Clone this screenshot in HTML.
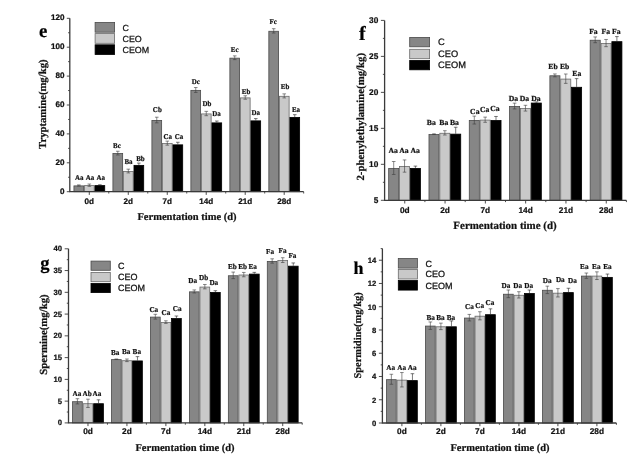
<!DOCTYPE html>
<html lang="en"><head><meta charset="utf-8"><title>Biogenic amines during fermentation</title>
<style>html,body{margin:0;padding:0;background:#fff}svg{display:block;filter:blur(0.35px)}text{stroke:#111;stroke-width:0.22px;paint-order:stroke;text-rendering:geometricPrecision}</style></head>
<body>
<svg width="639" height="463" viewBox="0 0 639 463">
<rect width="639" height="463" fill="#ffffff"/>
<g>
<rect x="73.94" y="185.89" width="9.73" height="5.81" fill="#868686" stroke="#4a4a4a" stroke-width="0.8"/>
<path d="M78.81 185.49V184.91M77.01 184.91H80.61" stroke="#3c3c3c" stroke-width="0.6" fill="none"/>
<path d="M78.81 185.49V186.06M77.01 186.06H80.61" stroke="#3c3c3c" stroke-width="0.6" fill="none"/>
<text transform="translate(79.2 180.4) scale(0.94 1)" font-family='"Liberation Serif", serif' font-weight="bold" font-size="7.4" text-anchor="middle" fill="#111">Aa</text>
<rect x="84.47" y="185.6" width="9.73" height="6.1" fill="#c9c9c9" stroke="#6a6a6a" stroke-width="0.8"/>
<path d="M89.34 185.2V184.04M87.54 184.04H91.14" stroke="#3c3c3c" stroke-width="0.6" fill="none"/>
<path d="M89.34 185.2V186.35M87.54 186.35H91.14" stroke="#3c3c3c" stroke-width="0.6" fill="none"/>
<text transform="translate(90 180.4) scale(0.94 1)" font-family='"Liberation Serif", serif' font-weight="bold" font-size="7.4" text-anchor="middle" fill="#111">Aa</text>
<rect x="95" y="185.6" width="9.73" height="6.1" fill="#000000" stroke="#000000" stroke-width="0.8"/>
<path d="M99.87 185.2V184.76M98.07 184.76H101.67" stroke="#222" stroke-width="0.6" fill="none"/>
<text transform="translate(100.8 180.4) scale(0.94 1)" font-family='"Liberation Serif", serif' font-weight="bold" font-size="7.4" text-anchor="middle" fill="#111">Aa</text>
<rect x="112.92" y="153.52" width="9.73" height="38.18" fill="#868686" stroke="#4a4a4a" stroke-width="0.8"/>
<path d="M117.79 153.12V151.24M115.99 151.24H119.59" stroke="#3c3c3c" stroke-width="0.6" fill="none"/>
<path d="M117.79 153.12V155M115.99 155H119.59" stroke="#3c3c3c" stroke-width="0.6" fill="none"/>
<text transform="translate(116.9 147.5) scale(0.94 1)" font-family='"Liberation Serif", serif' font-weight="bold" font-size="7.4" text-anchor="middle" fill="#111">Bc</text>
<rect x="123.45" y="171.44" width="9.73" height="20.26" fill="#c9c9c9" stroke="#6a6a6a" stroke-width="0.8"/>
<path d="M128.32 171.04V169.16M126.52 169.16H130.12" stroke="#3c3c3c" stroke-width="0.6" fill="none"/>
<path d="M128.32 171.04V172.91M126.52 172.91H130.12" stroke="#3c3c3c" stroke-width="0.6" fill="none"/>
<text transform="translate(128.5 164) scale(0.94 1)" font-family='"Liberation Serif", serif' font-weight="bold" font-size="7.4" text-anchor="middle" fill="#111">Ba</text>
<rect x="133.98" y="165.37" width="9.73" height="26.33" fill="#000000" stroke="#000000" stroke-width="0.8"/>
<path d="M138.85 164.97V163.09M137.05 163.09H140.65" stroke="#222" stroke-width="0.6" fill="none"/>
<text transform="translate(140.4 161) scale(0.94 1)" font-family='"Liberation Serif", serif' font-weight="bold" font-size="7.4" text-anchor="middle" fill="#111">Bb</text>
<rect x="151.91" y="120.43" width="9.73" height="71.27" fill="#868686" stroke="#4a4a4a" stroke-width="0.8"/>
<path d="M156.77 120.03V117.21M154.97 117.21H158.57" stroke="#3c3c3c" stroke-width="0.6" fill="none"/>
<path d="M156.77 120.03V122.85M154.97 122.85H158.57" stroke="#3c3c3c" stroke-width="0.6" fill="none"/>
<text transform="translate(157.3 111.6) scale(0.94 1)" font-family='"Liberation Serif", serif' font-weight="bold" font-size="7.4" text-anchor="middle" fill="#111">Cb</text>
<rect x="162.44" y="143.55" width="9.73" height="48.15" fill="#c9c9c9" stroke="#6a6a6a" stroke-width="0.8"/>
<path d="M167.3 143.15V141.12M165.5 141.12H169.1" stroke="#3c3c3c" stroke-width="0.6" fill="none"/>
<path d="M167.3 143.15V145.17M165.5 145.17H169.1" stroke="#3c3c3c" stroke-width="0.6" fill="none"/>
<text transform="translate(167.8 138.9) scale(0.94 1)" font-family='"Liberation Serif", serif' font-weight="bold" font-size="7.4" text-anchor="middle" fill="#111">Ca</text>
<rect x="172.97" y="144.85" width="9.73" height="46.85" fill="#000000" stroke="#000000" stroke-width="0.8"/>
<path d="M177.83 144.45V142.28M176.03 142.28H179.63" stroke="#222" stroke-width="0.6" fill="none"/>
<text transform="translate(178.9 138.9) scale(0.94 1)" font-family='"Liberation Serif", serif' font-weight="bold" font-size="7.4" text-anchor="middle" fill="#111">Ca</text>
<rect x="190.88" y="90.37" width="9.73" height="101.33" fill="#868686" stroke="#4a4a4a" stroke-width="0.8"/>
<path d="M195.75 89.97V87.52M193.95 87.52H197.55" stroke="#3c3c3c" stroke-width="0.6" fill="none"/>
<path d="M195.75 89.97V92.43M193.95 92.43H197.55" stroke="#3c3c3c" stroke-width="0.6" fill="none"/>
<text transform="translate(195.8 84) scale(0.94 1)" font-family='"Liberation Serif", serif' font-weight="bold" font-size="7.4" text-anchor="middle" fill="#111">Dc</text>
<rect x="201.41" y="113.93" width="9.73" height="77.77" fill="#c9c9c9" stroke="#6a6a6a" stroke-width="0.8"/>
<path d="M206.28 113.53V111.36M204.48 111.36H208.08" stroke="#3c3c3c" stroke-width="0.6" fill="none"/>
<path d="M206.28 113.53V115.69M204.48 115.69H208.08" stroke="#3c3c3c" stroke-width="0.6" fill="none"/>
<text transform="translate(207 106) scale(0.94 1)" font-family='"Liberation Serif", serif' font-weight="bold" font-size="7.4" text-anchor="middle" fill="#111">Db</text>
<rect x="211.94" y="122.88" width="9.73" height="68.82" fill="#000000" stroke="#000000" stroke-width="0.8"/>
<path d="M216.81 122.48V121.04M215.01 121.04H218.61" stroke="#222" stroke-width="0.6" fill="none"/>
<text transform="translate(216.6 115.6) scale(0.94 1)" font-family='"Liberation Serif", serif' font-weight="bold" font-size="7.4" text-anchor="middle" fill="#111">Da</text>
<rect x="229.87" y="58.15" width="9.73" height="133.55" fill="#868686" stroke="#4a4a4a" stroke-width="0.8"/>
<path d="M234.73 57.75V55.87M232.93 55.87H236.53" stroke="#3c3c3c" stroke-width="0.6" fill="none"/>
<path d="M234.73 57.75V59.63M232.93 59.63H236.53" stroke="#3c3c3c" stroke-width="0.6" fill="none"/>
<text transform="translate(234.7 52.3) scale(0.94 1)" font-family='"Liberation Serif", serif' font-weight="bold" font-size="7.4" text-anchor="middle" fill="#111">Ec</text>
<rect x="240.4" y="97.89" width="9.73" height="93.81" fill="#c9c9c9" stroke="#6a6a6a" stroke-width="0.8"/>
<path d="M245.26 97.49V95.75M243.46 95.75H247.06" stroke="#3c3c3c" stroke-width="0.6" fill="none"/>
<path d="M245.26 97.49V99.22M243.46 99.22H247.06" stroke="#3c3c3c" stroke-width="0.6" fill="none"/>
<text transform="translate(246 94.4) scale(0.94 1)" font-family='"Liberation Serif", serif' font-weight="bold" font-size="7.4" text-anchor="middle" fill="#111">Eb</text>
<rect x="250.92" y="120.86" width="9.73" height="70.84" fill="#000000" stroke="#000000" stroke-width="0.8"/>
<path d="M255.79 120.46V118.58M253.99 118.58H257.59" stroke="#222" stroke-width="0.6" fill="none"/>
<text transform="translate(255.8 114.6) scale(0.94 1)" font-family='"Liberation Serif", serif' font-weight="bold" font-size="7.4" text-anchor="middle" fill="#111">Da</text>
<rect x="268.84" y="31.27" width="9.73" height="160.43" fill="#868686" stroke="#4a4a4a" stroke-width="0.8"/>
<path d="M273.71 30.87V28.7M271.91 28.7H275.51" stroke="#3c3c3c" stroke-width="0.6" fill="none"/>
<path d="M273.71 30.87V33.04M271.91 33.04H275.51" stroke="#3c3c3c" stroke-width="0.6" fill="none"/>
<text transform="translate(273.2 23.5) scale(0.94 1)" font-family='"Liberation Serif", serif' font-weight="bold" font-size="7.4" text-anchor="middle" fill="#111">Fc</text>
<rect x="279.38" y="96.3" width="9.73" height="95.4" fill="#c9c9c9" stroke="#6a6a6a" stroke-width="0.8"/>
<path d="M284.24 95.9V93.87M282.44 93.87H286.04" stroke="#3c3c3c" stroke-width="0.6" fill="none"/>
<path d="M284.24 95.9V97.92M282.44 97.92H286.04" stroke="#3c3c3c" stroke-width="0.6" fill="none"/>
<text transform="translate(285.1 88.9) scale(0.94 1)" font-family='"Liberation Serif", serif' font-weight="bold" font-size="7.4" text-anchor="middle" fill="#111">Eb</text>
<rect x="289.9" y="117.39" width="9.73" height="74.31" fill="#000000" stroke="#000000" stroke-width="0.8"/>
<path d="M294.77 116.99V114.68M292.97 114.68H296.57" stroke="#222" stroke-width="0.6" fill="none"/>
<text transform="translate(296 111.8) scale(0.94 1)" font-family='"Liberation Serif", serif' font-weight="bold" font-size="7.4" text-anchor="middle" fill="#111">Ea</text>
<path d="M69.8 18.3V191.7H303.7" stroke="#3a3a3a" stroke-width="1.3" fill="none"/>
<text x="64.6" y="193.72" font-family='"Liberation Sans", sans-serif' font-weight="bold" font-size="8.1" text-anchor="end" fill="#111">0</text>
<text x="64.6" y="164.82" font-family='"Liberation Sans", sans-serif' font-weight="bold" font-size="8.1" text-anchor="end" fill="#111">20</text>
<text x="64.6" y="135.92" font-family='"Liberation Sans", sans-serif' font-weight="bold" font-size="8.1" text-anchor="end" fill="#111">40</text>
<text x="64.6" y="107.03" font-family='"Liberation Sans", sans-serif' font-weight="bold" font-size="8.1" text-anchor="end" fill="#111">60</text>
<text x="64.6" y="78.12" font-family='"Liberation Sans", sans-serif' font-weight="bold" font-size="8.1" text-anchor="end" fill="#111">80</text>
<text x="64.6" y="49.23" font-family='"Liberation Sans", sans-serif' font-weight="bold" font-size="8.1" text-anchor="end" fill="#111">100</text>
<text x="64.6" y="20.33" font-family='"Liberation Sans", sans-serif' font-weight="bold" font-size="8.1" text-anchor="end" fill="#111">120</text>
<text x="89.29" y="204.3" font-family='"Liberation Sans", sans-serif' font-weight="bold" font-size="8.1" text-anchor="middle" fill="#111">0d</text>
<text x="128.27" y="204.3" font-family='"Liberation Sans", sans-serif' font-weight="bold" font-size="8.1" text-anchor="middle" fill="#111">2d</text>
<text x="167.25" y="204.3" font-family='"Liberation Sans", sans-serif' font-weight="bold" font-size="8.1" text-anchor="middle" fill="#111">7d</text>
<text x="206.23" y="204.3" font-family='"Liberation Sans", sans-serif' font-weight="bold" font-size="8.1" text-anchor="middle" fill="#111">14d</text>
<text x="245.21" y="204.3" font-family='"Liberation Sans", sans-serif' font-weight="bold" font-size="8.1" text-anchor="middle" fill="#111">21d</text>
<text x="284.19" y="204.3" font-family='"Liberation Sans", sans-serif' font-weight="bold" font-size="8.1" text-anchor="middle" fill="#111">28d</text>
<path d="M69.8 191.7h-3.0M69.8 177.25h-1.7M69.8 162.8h-3.0M69.8 148.35h-1.7M69.8 133.9h-3.0M69.8 119.45h-1.7M69.8 105h-3.0M69.8 90.55h-1.7M69.8 76.1h-3.0M69.8 61.65h-1.7M69.8 47.2h-3.0M69.8 32.75h-1.7M69.8 18.3h-3.0M89.29 191.7v3.2M108.78 191.7v1.8M128.27 191.7v3.2M147.76 191.7v1.8M167.25 191.7v3.2M186.74 191.7v1.8M206.23 191.7v3.2M225.72 191.7v1.8M245.21 191.7v3.2M264.7 191.7v1.8M284.19 191.7v3.2M303.68 191.7v1.8" stroke="#3a3a3a" stroke-width="0.9" fill="none"/>
<text x="187" y="219.6" font-family='"Liberation Serif", serif' font-weight="bold" font-size="10.5" text-anchor="middle" fill="#111">Fermentation time (d)</text>
<text transform="translate(46 104.2) rotate(-90)" font-family='"Liberation Serif", serif' font-weight="bold" font-size="10.7" text-anchor="middle" fill="#111">Tryptamine(mg/kg)</text>
<text x="39" y="37.2" font-family='"Liberation Serif", serif' font-weight="bold" font-size="18.8" fill="#000">e</text>
<rect x="95.1" y="22.5" width="19.5" height="9.7" fill="#868686" stroke="#4a4a4a" stroke-width="0.8"/>
<text x="122.5" y="30.55" font-family='"Liberation Sans", sans-serif' font-size="8.9" fill="#111" style="stroke-width:0.25px">C</text>
<rect x="95.1" y="33.6" width="19.5" height="9.7" fill="#c9c9c9" stroke="#6a6a6a" stroke-width="0.8"/>
<text x="122.5" y="41.65" font-family='"Liberation Sans", sans-serif' font-size="8.9" fill="#111" style="stroke-width:0.25px">CEO</text>
<rect x="95.1" y="44.8" width="19.5" height="9.7" fill="#000000" stroke="#000000" stroke-width="0.8"/>
<text x="122.5" y="52.85" font-family='"Liberation Sans", sans-serif' font-size="8.9" fill="#111" style="stroke-width:0.25px">CEOM</text>
</g>
<g>
<rect x="388.68" y="168.39" width="10.05" height="31.91" fill="#868686" stroke="#4a4a4a" stroke-width="0.8"/>
<path d="M393.7 167.99V161.51M391.9 161.51H395.5" stroke="#3c3c3c" stroke-width="0.6" fill="none"/>
<path d="M393.7 167.99V174.47M391.9 174.47H395.5" stroke="#3c3c3c" stroke-width="0.6" fill="none"/>
<text transform="translate(393.1 152.6) scale(1.0 1)" font-family='"Liberation Serif", serif' font-weight="bold" font-size="7.7" text-anchor="middle" fill="#111">Aa</text>
<rect x="399.52" y="166.45" width="10.05" height="33.85" fill="#c9c9c9" stroke="#6a6a6a" stroke-width="0.8"/>
<path d="M404.55 166.05V159.93M402.75 159.93H406.35" stroke="#3c3c3c" stroke-width="0.6" fill="none"/>
<path d="M404.55 166.05V172.16M402.75 172.16H406.35" stroke="#3c3c3c" stroke-width="0.6" fill="none"/>
<text transform="translate(404 152.6) scale(1.0 1)" font-family='"Liberation Serif", serif' font-weight="bold" font-size="7.7" text-anchor="middle" fill="#111">Aa</text>
<rect x="410.38" y="168.39" width="10.05" height="31.91" fill="#000000" stroke="#000000" stroke-width="0.8"/>
<path d="M415.4 167.99V166.12M413.6 166.12H417.2" stroke="#222" stroke-width="0.6" fill="none"/>
<text transform="translate(415.1 152.6) scale(1.0 1)" font-family='"Liberation Serif", serif' font-weight="bold" font-size="7.7" text-anchor="middle" fill="#111">Aa</text>
<rect x="428.98" y="134.57" width="10.05" height="65.73" fill="#868686" stroke="#4a4a4a" stroke-width="0.8"/>
<path d="M434 134.17V133.81M432.2 133.81H435.8" stroke="#3c3c3c" stroke-width="0.6" fill="none"/>
<path d="M434 134.17V134.53M432.2 134.53H435.8" stroke="#3c3c3c" stroke-width="0.6" fill="none"/>
<text transform="translate(431.3 125) scale(1.0 1)" font-family='"Liberation Serif", serif' font-weight="bold" font-size="7.7" text-anchor="middle" fill="#111">Ba</text>
<rect x="439.82" y="133.27" width="10.05" height="67.03" fill="#c9c9c9" stroke="#6a6a6a" stroke-width="0.8"/>
<path d="M444.85 132.87V130.71M443.05 130.71H446.65" stroke="#3c3c3c" stroke-width="0.6" fill="none"/>
<path d="M444.85 132.87V135.03M443.05 135.03H446.65" stroke="#3c3c3c" stroke-width="0.6" fill="none"/>
<text transform="translate(443.8 125) scale(1.0 1)" font-family='"Liberation Serif", serif' font-weight="bold" font-size="7.7" text-anchor="middle" fill="#111">Ba</text>
<rect x="450.68" y="134.14" width="10.05" height="66.16" fill="#000000" stroke="#000000" stroke-width="0.8"/>
<path d="M455.7 133.74V127.26M453.9 127.26H457.5" stroke="#222" stroke-width="0.6" fill="none"/>
<text transform="translate(454.4 125) scale(1.0 1)" font-family='"Liberation Serif", serif' font-weight="bold" font-size="7.7" text-anchor="middle" fill="#111">Ba</text>
<rect x="469.28" y="120.46" width="10.05" height="79.84" fill="#868686" stroke="#4a4a4a" stroke-width="0.8"/>
<path d="M474.3 120.06V116.11M472.5 116.11H476.1" stroke="#3c3c3c" stroke-width="0.6" fill="none"/>
<path d="M474.3 120.06V124.02M472.5 124.02H476.1" stroke="#3c3c3c" stroke-width="0.6" fill="none"/>
<text transform="translate(474.8 113.5) scale(1.0 1)" font-family='"Liberation Serif", serif' font-weight="bold" font-size="7.7" text-anchor="middle" fill="#111">Ca</text>
<rect x="480.12" y="120.1" width="10.05" height="80.2" fill="#c9c9c9" stroke="#6a6a6a" stroke-width="0.8"/>
<path d="M485.15 119.7V117.11M483.35 117.11H486.95" stroke="#3c3c3c" stroke-width="0.6" fill="none"/>
<path d="M485.15 119.7V122.3M483.35 122.3H486.95" stroke="#3c3c3c" stroke-width="0.6" fill="none"/>
<text transform="translate(484.6 112.2) scale(1.0 1)" font-family='"Liberation Serif", serif' font-weight="bold" font-size="7.7" text-anchor="middle" fill="#111">Ca</text>
<rect x="490.98" y="120.46" width="10.05" height="79.84" fill="#000000" stroke="#000000" stroke-width="0.8"/>
<path d="M496 120.06V116.47M494.2 116.47H497.8" stroke="#222" stroke-width="0.6" fill="none"/>
<text transform="translate(494.9 111.3) scale(1.0 1)" font-family='"Liberation Serif", serif' font-weight="bold" font-size="7.7" text-anchor="middle" fill="#111">Ca</text>
<rect x="509.57" y="106.43" width="10.05" height="93.87" fill="#868686" stroke="#4a4a4a" stroke-width="0.8"/>
<path d="M514.6 106.03V103.15M512.8 103.15H516.4" stroke="#3c3c3c" stroke-width="0.6" fill="none"/>
<path d="M514.6 106.03V108.91M512.8 108.91H516.4" stroke="#3c3c3c" stroke-width="0.6" fill="none"/>
<text transform="translate(513.5 101) scale(1.0 1)" font-family='"Liberation Serif", serif' font-weight="bold" font-size="7.7" text-anchor="middle" fill="#111">Da</text>
<rect x="520.42" y="108.59" width="10.05" height="91.71" fill="#c9c9c9" stroke="#6a6a6a" stroke-width="0.8"/>
<path d="M525.45 108.19V105.31M523.65 105.31H527.25" stroke="#3c3c3c" stroke-width="0.6" fill="none"/>
<path d="M525.45 108.19V111.07M523.65 111.07H527.25" stroke="#3c3c3c" stroke-width="0.6" fill="none"/>
<text transform="translate(524.4 101) scale(1.0 1)" font-family='"Liberation Serif", serif' font-weight="bold" font-size="7.7" text-anchor="middle" fill="#111">Da</text>
<rect x="531.27" y="103.05" width="10.05" height="97.25" fill="#000000" stroke="#000000" stroke-width="0.8"/>
<path d="M536.3 102.65V101.93M534.5 101.93H538.1" stroke="#222" stroke-width="0.6" fill="none"/>
<text transform="translate(536 100.5) scale(1.0 1)" font-family='"Liberation Serif", serif' font-weight="bold" font-size="7.7" text-anchor="middle" fill="#111">Da</text>
<rect x="549.88" y="75.78" width="10.05" height="124.52" fill="#868686" stroke="#4a4a4a" stroke-width="0.8"/>
<path d="M554.9 75.38V73.94M553.1 73.94H556.7" stroke="#3c3c3c" stroke-width="0.6" fill="none"/>
<path d="M554.9 75.38V76.82M553.1 76.82H556.7" stroke="#3c3c3c" stroke-width="0.6" fill="none"/>
<text transform="translate(553 69.3) scale(1.0 1)" font-family='"Liberation Serif", serif' font-weight="bold" font-size="7.7" text-anchor="middle" fill="#111">Eb</text>
<rect x="560.73" y="79.09" width="10.05" height="121.21" fill="#c9c9c9" stroke="#6a6a6a" stroke-width="0.8"/>
<path d="M565.75 78.69V74.01M563.95 74.01H567.55" stroke="#3c3c3c" stroke-width="0.6" fill="none"/>
<path d="M565.75 78.69V83.36M563.95 83.36H567.55" stroke="#3c3c3c" stroke-width="0.6" fill="none"/>
<text transform="translate(564.6 69.3) scale(1.0 1)" font-family='"Liberation Serif", serif' font-weight="bold" font-size="7.7" text-anchor="middle" fill="#111">Eb</text>
<rect x="571.57" y="87.29" width="10.05" height="113.01" fill="#000000" stroke="#000000" stroke-width="0.8"/>
<path d="M576.6 86.89V78.62M574.8 78.62H578.4" stroke="#222" stroke-width="0.6" fill="none"/>
<text transform="translate(576.8 76.1) scale(1.0 1)" font-family='"Liberation Serif", serif' font-weight="bold" font-size="7.7" text-anchor="middle" fill="#111">Ea</text>
<rect x="590.17" y="40.23" width="10.05" height="160.07" fill="#868686" stroke="#4a4a4a" stroke-width="0.8"/>
<path d="M595.2 39.83V36.95M593.4 36.95H597" stroke="#3c3c3c" stroke-width="0.6" fill="none"/>
<path d="M595.2 39.83V42.71M593.4 42.71H597" stroke="#3c3c3c" stroke-width="0.6" fill="none"/>
<text transform="translate(593.4 34.4) scale(1.0 1)" font-family='"Liberation Serif", serif' font-weight="bold" font-size="7.7" text-anchor="middle" fill="#111">Fa</text>
<rect x="601.02" y="43.47" width="10.05" height="156.83" fill="#c9c9c9" stroke="#6a6a6a" stroke-width="0.8"/>
<path d="M606.05 43.07V39.47M604.25 39.47H607.85" stroke="#3c3c3c" stroke-width="0.6" fill="none"/>
<path d="M606.05 43.07V46.67M604.25 46.67H607.85" stroke="#3c3c3c" stroke-width="0.6" fill="none"/>
<text transform="translate(605.8 34) scale(1.0 1)" font-family='"Liberation Serif", serif' font-weight="bold" font-size="7.7" text-anchor="middle" fill="#111">Fa</text>
<rect x="611.87" y="41.67" width="10.05" height="158.63" fill="#000000" stroke="#000000" stroke-width="0.8"/>
<path d="M616.9 41.27V36.59M615.1 36.59H618.7" stroke="#222" stroke-width="0.6" fill="none"/>
<text transform="translate(616.3 34) scale(1.0 1)" font-family='"Liberation Serif", serif' font-weight="bold" font-size="7.7" text-anchor="middle" fill="#111">Fa</text>
<path d="M384.6 20.4V200.3H626.4" stroke="#3a3a3a" stroke-width="1.3" fill="none"/>
<text x="378.3" y="202.96" font-family='"Liberation Sans", sans-serif' font-weight="bold" font-size="8.3" text-anchor="end" fill="#111">5</text>
<text x="378.3" y="166.98" font-family='"Liberation Sans", sans-serif' font-weight="bold" font-size="8.3" text-anchor="end" fill="#111">10</text>
<text x="378.3" y="131" font-family='"Liberation Sans", sans-serif' font-weight="bold" font-size="8.3" text-anchor="end" fill="#111">15</text>
<text x="378.3" y="95.02" font-family='"Liberation Sans", sans-serif' font-weight="bold" font-size="8.3" text-anchor="end" fill="#111">20</text>
<text x="378.3" y="59.04" font-family='"Liberation Sans", sans-serif' font-weight="bold" font-size="8.3" text-anchor="end" fill="#111">25</text>
<text x="378.3" y="23.06" font-family='"Liberation Sans", sans-serif' font-weight="bold" font-size="8.3" text-anchor="end" fill="#111">30</text>
<text x="404.75" y="213.1" font-family='"Liberation Sans", sans-serif' font-weight="bold" font-size="8.3" text-anchor="middle" fill="#111">0d</text>
<text x="445.05" y="213.1" font-family='"Liberation Sans", sans-serif' font-weight="bold" font-size="8.3" text-anchor="middle" fill="#111">2d</text>
<text x="485.35" y="213.1" font-family='"Liberation Sans", sans-serif' font-weight="bold" font-size="8.3" text-anchor="middle" fill="#111">7d</text>
<text x="525.65" y="213.1" font-family='"Liberation Sans", sans-serif' font-weight="bold" font-size="8.3" text-anchor="middle" fill="#111">14d</text>
<text x="565.95" y="213.1" font-family='"Liberation Sans", sans-serif' font-weight="bold" font-size="8.3" text-anchor="middle" fill="#111">21d</text>
<text x="606.25" y="213.1" font-family='"Liberation Sans", sans-serif' font-weight="bold" font-size="8.3" text-anchor="middle" fill="#111">28d</text>
<path d="M384.6 200.3h-3.7M384.6 182.31h-1.7M384.6 164.32h-3.7M384.6 146.33h-1.7M384.6 128.34h-3.7M384.6 110.35h-1.7M384.6 92.36h-3.7M384.6 74.37h-1.7M384.6 56.38h-3.7M384.6 38.39h-1.7M384.6 20.4h-3.7M404.75 200.3v3.2M424.9 200.3v1.8M445.05 200.3v3.2M465.2 200.3v1.8M485.35 200.3v3.2M505.5 200.3v1.8M525.65 200.3v3.2M545.8 200.3v1.8M565.95 200.3v3.2M586.1 200.3v1.8M606.25 200.3v3.2M626.4 200.3v1.8" stroke="#3a3a3a" stroke-width="0.9" fill="none"/>
<text x="505" y="228.9" font-family='"Liberation Serif", serif' font-weight="bold" font-size="10.95" text-anchor="middle" fill="#111">Fermentation time (d)</text>
<text transform="translate(363.6 116.7) rotate(-90)" font-family='"Liberation Serif", serif' font-weight="bold" font-size="10.85" text-anchor="middle" fill="#111">2-phenylethylamine(mg/kg)</text>
<text x="359.1" y="39.8" font-family='"Liberation Serif", serif' font-weight="bold" font-size="20" fill="#000">f</text>
<rect x="409.7" y="37.4" width="19.9" height="9.4" fill="#868686" stroke="#4a4a4a" stroke-width="0.8"/>
<text x="438" y="45.45" font-family='"Liberation Sans", sans-serif' font-size="9.3" fill="#111" style="stroke-width:0.25px">C</text>
<rect x="409.7" y="49.3" width="19.9" height="9.4" fill="#c9c9c9" stroke="#6a6a6a" stroke-width="0.8"/>
<text x="438" y="57.35" font-family='"Liberation Sans", sans-serif' font-size="9.3" fill="#111" style="stroke-width:0.25px">CEO</text>
<rect x="409.7" y="60.4" width="19.9" height="9.4" fill="#000000" stroke="#000000" stroke-width="0.8"/>
<text x="438" y="68.45" font-family='"Liberation Sans", sans-serif' font-size="9.3" fill="#111" style="stroke-width:0.25px">CEOM</text>
</g>
<g>
<rect x="72.55" y="401.71" width="9.75" height="21.19" fill="#868686" stroke="#4a4a4a" stroke-width="0.8"/>
<path d="M77.42 401.31V398.7M75.62 398.7H79.22" stroke="#3c3c3c" stroke-width="0.6" fill="none"/>
<path d="M77.42 401.31V403.92M75.62 403.92H79.22" stroke="#3c3c3c" stroke-width="0.6" fill="none"/>
<text transform="translate(76.9 395.6) scale(0.96 1)" font-family='"Liberation Serif", serif' font-weight="bold" font-size="7.5" text-anchor="middle" fill="#111">Aa</text>
<rect x="83.1" y="403.71" width="9.75" height="19.19" fill="#c9c9c9" stroke="#6a6a6a" stroke-width="0.8"/>
<path d="M87.97 403.31V399.18M86.17 399.18H89.77" stroke="#3c3c3c" stroke-width="0.6" fill="none"/>
<path d="M87.97 403.31V407.45M86.17 407.45H89.77" stroke="#3c3c3c" stroke-width="0.6" fill="none"/>
<text transform="translate(87.1 395.6) scale(0.96 1)" font-family='"Liberation Serif", serif' font-weight="bold" font-size="7.5" text-anchor="middle" fill="#111">Ab</text>
<rect x="93.65" y="403.71" width="9.75" height="19.19" fill="#000000" stroke="#000000" stroke-width="0.8"/>
<path d="M98.53 403.31V399.83M96.73 399.83H100.33" stroke="#222" stroke-width="0.6" fill="none"/>
<text transform="translate(97 395.6) scale(0.96 1)" font-family='"Liberation Serif", serif' font-weight="bold" font-size="7.5" text-anchor="middle" fill="#111">Aa</text>
<rect x="111.5" y="359.62" width="9.75" height="63.28" fill="#868686" stroke="#4a4a4a" stroke-width="0.8"/>
<path d="M116.38 359.22V359.01M114.58 359.01H118.18" stroke="#3c3c3c" stroke-width="0.6" fill="none"/>
<path d="M116.38 359.22V359.44M114.58 359.44H118.18" stroke="#3c3c3c" stroke-width="0.6" fill="none"/>
<text transform="translate(115.2 354.5) scale(0.96 1)" font-family='"Liberation Serif", serif' font-weight="bold" font-size="7.5" text-anchor="middle" fill="#111">Ba</text>
<rect x="122.05" y="360.71" width="9.75" height="62.19" fill="#c9c9c9" stroke="#6a6a6a" stroke-width="0.8"/>
<path d="M126.93 360.31V359.01M125.13 359.01H128.73" stroke="#3c3c3c" stroke-width="0.6" fill="none"/>
<path d="M126.93 360.31V361.62M125.13 361.62H128.73" stroke="#3c3c3c" stroke-width="0.6" fill="none"/>
<text transform="translate(126.1 353.7) scale(0.96 1)" font-family='"Liberation Serif", serif' font-weight="bold" font-size="7.5" text-anchor="middle" fill="#111">Ba</text>
<rect x="132.6" y="360.93" width="9.75" height="61.97" fill="#000000" stroke="#000000" stroke-width="0.8"/>
<path d="M137.48 360.53V356.61M135.68 356.61H139.28" stroke="#222" stroke-width="0.6" fill="none"/>
<text transform="translate(136.8 353.7) scale(0.96 1)" font-family='"Liberation Serif", serif' font-weight="bold" font-size="7.5" text-anchor="middle" fill="#111">Ba</text>
<rect x="150.45" y="317.1" width="9.75" height="105.8" fill="#868686" stroke="#4a4a4a" stroke-width="0.8"/>
<path d="M155.33 316.7V314.31M153.53 314.31H157.13" stroke="#3c3c3c" stroke-width="0.6" fill="none"/>
<path d="M155.33 316.7V319.09M153.53 319.09H157.13" stroke="#3c3c3c" stroke-width="0.6" fill="none"/>
<text transform="translate(153.8 312) scale(0.96 1)" font-family='"Liberation Serif", serif' font-weight="bold" font-size="7.5" text-anchor="middle" fill="#111">Ca</text>
<rect x="161" y="322.5" width="9.75" height="100.4" fill="#c9c9c9" stroke="#6a6a6a" stroke-width="0.8"/>
<path d="M165.88 322.1V320.79M164.07 320.79H167.68" stroke="#3c3c3c" stroke-width="0.6" fill="none"/>
<path d="M165.88 322.1V323.4M164.07 323.4H167.68" stroke="#3c3c3c" stroke-width="0.6" fill="none"/>
<text transform="translate(166 314.8) scale(0.96 1)" font-family='"Liberation Serif", serif' font-weight="bold" font-size="7.5" text-anchor="middle" fill="#111">Ca</text>
<rect x="171.55" y="318.58" width="9.75" height="104.32" fill="#000000" stroke="#000000" stroke-width="0.8"/>
<path d="M176.43 318.18V316M174.62 316H178.23" stroke="#222" stroke-width="0.6" fill="none"/>
<text transform="translate(177.2 311.3) scale(0.96 1)" font-family='"Liberation Serif", serif' font-weight="bold" font-size="7.5" text-anchor="middle" fill="#111">Ca</text>
<rect x="189.4" y="291.85" width="9.75" height="131.05" fill="#868686" stroke="#4a4a4a" stroke-width="0.8"/>
<path d="M194.28 291.45V289.93M192.48 289.93H196.08" stroke="#3c3c3c" stroke-width="0.6" fill="none"/>
<path d="M194.28 291.45V292.98M192.48 292.98H196.08" stroke="#3c3c3c" stroke-width="0.6" fill="none"/>
<text transform="translate(192.7 283.4) scale(0.96 1)" font-family='"Liberation Serif", serif' font-weight="bold" font-size="7.5" text-anchor="middle" fill="#111">Da</text>
<rect x="199.95" y="287.07" width="9.75" height="135.83" fill="#c9c9c9" stroke="#6a6a6a" stroke-width="0.8"/>
<path d="M204.83 286.67V284.49M203.03 284.49H206.63" stroke="#3c3c3c" stroke-width="0.6" fill="none"/>
<path d="M204.83 286.67V288.84M203.03 288.84H206.63" stroke="#3c3c3c" stroke-width="0.6" fill="none"/>
<text transform="translate(203.6 280.4) scale(0.96 1)" font-family='"Liberation Serif", serif' font-weight="bold" font-size="7.5" text-anchor="middle" fill="#111">Db</text>
<rect x="210.5" y="292.42" width="9.75" height="130.48" fill="#000000" stroke="#000000" stroke-width="0.8"/>
<path d="M215.38 292.02V290.71M213.58 290.71H217.18" stroke="#222" stroke-width="0.6" fill="none"/>
<text transform="translate(213.8 284.7) scale(0.96 1)" font-family='"Liberation Serif", serif' font-weight="bold" font-size="7.5" text-anchor="middle" fill="#111">Da</text>
<rect x="228.35" y="275.75" width="9.75" height="147.15" fill="#868686" stroke="#4a4a4a" stroke-width="0.8"/>
<path d="M233.23 275.35V272.09M231.43 272.09H235.03" stroke="#3c3c3c" stroke-width="0.6" fill="none"/>
<path d="M233.23 275.35V278.61M231.43 278.61H235.03" stroke="#3c3c3c" stroke-width="0.6" fill="none"/>
<text transform="translate(232.4 268.8) scale(0.96 1)" font-family='"Liberation Serif", serif' font-weight="bold" font-size="7.5" text-anchor="middle" fill="#111">Eb</text>
<rect x="238.9" y="275.01" width="9.75" height="147.89" fill="#c9c9c9" stroke="#6a6a6a" stroke-width="0.8"/>
<path d="M243.78 274.61V272.43M241.97 272.43H245.58" stroke="#3c3c3c" stroke-width="0.6" fill="none"/>
<path d="M243.78 274.61V276.79M241.97 276.79H245.58" stroke="#3c3c3c" stroke-width="0.6" fill="none"/>
<text transform="translate(242.6 268.8) scale(0.96 1)" font-family='"Liberation Serif", serif' font-weight="bold" font-size="7.5" text-anchor="middle" fill="#111">Eb</text>
<rect x="249.45" y="274.1" width="9.75" height="148.8" fill="#000000" stroke="#000000" stroke-width="0.8"/>
<path d="M254.33 273.7V272.39M252.53 272.39H256.12" stroke="#222" stroke-width="0.6" fill="none"/>
<text transform="translate(252.7 268.8) scale(0.96 1)" font-family='"Liberation Serif", serif' font-weight="bold" font-size="7.5" text-anchor="middle" fill="#111">Ea</text>
<rect x="267.3" y="261.39" width="9.75" height="161.51" fill="#868686" stroke="#4a4a4a" stroke-width="0.8"/>
<path d="M272.18 260.99V258.81M270.38 258.81H273.98" stroke="#3c3c3c" stroke-width="0.6" fill="none"/>
<path d="M272.18 260.99V263.16M270.38 263.16H273.98" stroke="#3c3c3c" stroke-width="0.6" fill="none"/>
<text transform="translate(270.1 253.5) scale(0.96 1)" font-family='"Liberation Serif", serif' font-weight="bold" font-size="7.5" text-anchor="middle" fill="#111">Fa</text>
<rect x="277.85" y="260.52" width="9.75" height="162.38" fill="#c9c9c9" stroke="#6a6a6a" stroke-width="0.8"/>
<path d="M282.73 260.12V257.72M280.93 257.72H284.53" stroke="#3c3c3c" stroke-width="0.6" fill="none"/>
<path d="M282.73 260.12V262.51M280.93 262.51H284.53" stroke="#3c3c3c" stroke-width="0.6" fill="none"/>
<text transform="translate(282.6 253.1) scale(0.96 1)" font-family='"Liberation Serif", serif' font-weight="bold" font-size="7.5" text-anchor="middle" fill="#111">Fa</text>
<rect x="288.4" y="266.17" width="9.75" height="156.73" fill="#000000" stroke="#000000" stroke-width="0.8"/>
<path d="M293.27 265.77V262.95M291.47 262.95H295.07" stroke="#222" stroke-width="0.6" fill="none"/>
<text transform="translate(292.4 257.9) scale(0.96 1)" font-family='"Liberation Serif", serif' font-weight="bold" font-size="7.5" text-anchor="middle" fill="#111">Fa</text>
<path d="M68.5 248.8V422.9H302.3" stroke="#3a3a3a" stroke-width="1.3" fill="none"/>
<text x="62.1" y="425.44" font-family='"Liberation Sans", sans-serif' font-weight="bold" font-size="7.7" text-anchor="end" fill="#111">0</text>
<text x="62.1" y="403.68" font-family='"Liberation Sans", sans-serif' font-weight="bold" font-size="7.7" text-anchor="end" fill="#111">5</text>
<text x="62.1" y="381.92" font-family='"Liberation Sans", sans-serif' font-weight="bold" font-size="7.7" text-anchor="end" fill="#111">10</text>
<text x="62.1" y="360.15" font-family='"Liberation Sans", sans-serif' font-weight="bold" font-size="7.7" text-anchor="end" fill="#111">15</text>
<text x="62.1" y="338.39" font-family='"Liberation Sans", sans-serif' font-weight="bold" font-size="7.7" text-anchor="end" fill="#111">20</text>
<text x="62.1" y="316.63" font-family='"Liberation Sans", sans-serif' font-weight="bold" font-size="7.7" text-anchor="end" fill="#111">25</text>
<text x="62.1" y="294.87" font-family='"Liberation Sans", sans-serif' font-weight="bold" font-size="7.7" text-anchor="end" fill="#111">30</text>
<text x="62.1" y="273.1" font-family='"Liberation Sans", sans-serif' font-weight="bold" font-size="7.7" text-anchor="end" fill="#111">35</text>
<text x="62.1" y="251.34" font-family='"Liberation Sans", sans-serif' font-weight="bold" font-size="7.7" text-anchor="end" fill="#111">40</text>
<text x="87.97" y="434.3" font-family='"Liberation Sans", sans-serif' font-weight="bold" font-size="8.3" text-anchor="middle" fill="#111">0d</text>
<text x="126.93" y="434.3" font-family='"Liberation Sans", sans-serif' font-weight="bold" font-size="8.3" text-anchor="middle" fill="#111">2d</text>
<text x="165.88" y="434.3" font-family='"Liberation Sans", sans-serif' font-weight="bold" font-size="8.3" text-anchor="middle" fill="#111">7d</text>
<text x="204.83" y="434.3" font-family='"Liberation Sans", sans-serif' font-weight="bold" font-size="8.3" text-anchor="middle" fill="#111">14d</text>
<text x="243.78" y="434.3" font-family='"Liberation Sans", sans-serif' font-weight="bold" font-size="8.3" text-anchor="middle" fill="#111">21d</text>
<text x="282.73" y="434.3" font-family='"Liberation Sans", sans-serif' font-weight="bold" font-size="8.3" text-anchor="middle" fill="#111">28d</text>
<path d="M68.5 422.9h-3.8M68.5 412.02h-1.7M68.5 401.14h-3.8M68.5 390.26h-1.7M68.5 379.38h-3.8M68.5 368.49h-1.7M68.5 357.61h-3.8M68.5 346.73h-1.7M68.5 335.85h-3.8M68.5 324.97h-1.7M68.5 314.09h-3.8M68.5 303.21h-1.7M68.5 292.32h-3.8M68.5 281.44h-1.7M68.5 270.56h-3.8M68.5 259.68h-1.7M68.5 248.8h-3.8M87.97 422.9v3.2M107.45 422.9v1.8M126.93 422.9v3.2M146.4 422.9v1.8M165.88 422.9v3.2M185.35 422.9v1.8M204.83 422.9v3.2M224.3 422.9v1.8M243.78 422.9v3.2M263.25 422.9v1.8M282.73 422.9v3.2M302.2 422.9v1.8" stroke="#3a3a3a" stroke-width="0.9" fill="none"/>
<text x="185" y="451" font-family='"Liberation Serif", serif' font-weight="bold" font-size="10.5" text-anchor="middle" fill="#111">Fermentation time (d)</text>
<text transform="translate(47.2 334.5) rotate(-90)" font-family='"Liberation Serif", serif' font-weight="bold" font-size="10.8" text-anchor="middle" fill="#111">Spermine(mg/kg)</text>
<text x="40.3" y="269.4" font-family='"Liberation Serif", serif' font-weight="bold" font-size="18.5" fill="#000">g</text>
<rect x="91" y="261.1" width="19.3" height="9.2" fill="#868686" stroke="#4a4a4a" stroke-width="0.8"/>
<text x="118" y="268.94" font-family='"Liberation Sans", sans-serif' font-size="9.0" fill="#111" style="stroke-width:0.25px">C</text>
<rect x="91" y="272.5" width="19.3" height="9.2" fill="#c9c9c9" stroke="#6a6a6a" stroke-width="0.8"/>
<text x="118" y="280.34" font-family='"Liberation Sans", sans-serif' font-size="9.0" fill="#111" style="stroke-width:0.25px">CEO</text>
<rect x="91" y="283.4" width="19.3" height="9.2" fill="#000000" stroke="#000000" stroke-width="0.8"/>
<text x="118" y="291.24" font-family='"Liberation Sans", sans-serif' font-size="9.0" fill="#111" style="stroke-width:0.25px">CEOM</text>
</g>
<g>
<rect x="386.47" y="379.68" width="9.75" height="43.32" fill="#868686" stroke="#4a4a4a" stroke-width="0.8"/>
<path d="M391.35 379.28V374.28M389.55 374.28H393.15" stroke="#3c3c3c" stroke-width="0.6" fill="none"/>
<path d="M391.35 379.28V384.28M389.55 384.28H393.15" stroke="#3c3c3c" stroke-width="0.6" fill="none"/>
<text transform="translate(390.7 369.6) scale(0.96 1)" font-family='"Liberation Serif", serif' font-weight="bold" font-size="7.5" text-anchor="middle" fill="#111">Aa</text>
<rect x="397.02" y="380.15" width="9.75" height="42.85" fill="#c9c9c9" stroke="#6a6a6a" stroke-width="0.8"/>
<path d="M401.9 379.75V372.54M400.1 372.54H403.7" stroke="#3c3c3c" stroke-width="0.6" fill="none"/>
<path d="M401.9 379.75V386.96M400.1 386.96H403.7" stroke="#3c3c3c" stroke-width="0.6" fill="none"/>
<text transform="translate(401.6 369.6) scale(0.96 1)" font-family='"Liberation Serif", serif' font-weight="bold" font-size="7.5" text-anchor="middle" fill="#111">Aa</text>
<rect x="407.57" y="380.61" width="9.75" height="42.39" fill="#000000" stroke="#000000" stroke-width="0.8"/>
<path d="M412.45 380.21V373.7M410.65 373.7H414.25" stroke="#222" stroke-width="0.6" fill="none"/>
<text transform="translate(412.1 369.6) scale(0.96 1)" font-family='"Liberation Serif", serif' font-weight="bold" font-size="7.5" text-anchor="middle" fill="#111">Aa</text>
<rect x="425.47" y="326.08" width="9.75" height="96.92" fill="#868686" stroke="#4a4a4a" stroke-width="0.8"/>
<path d="M430.35 325.68V321.96M428.55 321.96H432.15" stroke="#3c3c3c" stroke-width="0.6" fill="none"/>
<path d="M430.35 325.68V329.41M428.55 329.41H432.15" stroke="#3c3c3c" stroke-width="0.6" fill="none"/>
<text transform="translate(430.6 320.1) scale(0.96 1)" font-family='"Liberation Serif", serif' font-weight="bold" font-size="7.5" text-anchor="middle" fill="#111">Ba</text>
<rect x="436.02" y="326.78" width="9.75" height="96.22" fill="#c9c9c9" stroke="#6a6a6a" stroke-width="0.8"/>
<path d="M440.9 326.38V323.13M439.1 323.13H442.7" stroke="#3c3c3c" stroke-width="0.6" fill="none"/>
<path d="M440.9 326.38V329.64M439.1 329.64H442.7" stroke="#3c3c3c" stroke-width="0.6" fill="none"/>
<text transform="translate(440.5 320.1) scale(0.96 1)" font-family='"Liberation Serif", serif' font-weight="bold" font-size="7.5" text-anchor="middle" fill="#111">Ba</text>
<rect x="446.57" y="326.78" width="9.75" height="96.22" fill="#000000" stroke="#000000" stroke-width="0.8"/>
<path d="M451.45 326.38V320.92M449.65 320.92H453.25" stroke="#222" stroke-width="0.6" fill="none"/>
<text transform="translate(450.9 319.5) scale(0.96 1)" font-family='"Liberation Serif", serif' font-weight="bold" font-size="7.5" text-anchor="middle" fill="#111">Ba</text>
<rect x="464.47" y="318.06" width="9.75" height="104.94" fill="#868686" stroke="#4a4a4a" stroke-width="0.8"/>
<path d="M469.35 317.66V314.41M467.55 314.41H471.15" stroke="#3c3c3c" stroke-width="0.6" fill="none"/>
<path d="M469.35 317.66V320.92M467.55 320.92H471.15" stroke="#3c3c3c" stroke-width="0.6" fill="none"/>
<text transform="translate(469.5 309.2) scale(0.96 1)" font-family='"Liberation Serif", serif' font-weight="bold" font-size="7.5" text-anchor="middle" fill="#111">Ca</text>
<rect x="475.02" y="316.2" width="9.75" height="106.8" fill="#c9c9c9" stroke="#6a6a6a" stroke-width="0.8"/>
<path d="M479.9 315.8V311.73M478.1 311.73H481.7" stroke="#3c3c3c" stroke-width="0.6" fill="none"/>
<path d="M479.9 315.8V319.87M478.1 319.87H481.7" stroke="#3c3c3c" stroke-width="0.6" fill="none"/>
<text transform="translate(479.7 307.5) scale(0.96 1)" font-family='"Liberation Serif", serif' font-weight="bold" font-size="7.5" text-anchor="middle" fill="#111">Ca</text>
<rect x="485.57" y="314.69" width="9.75" height="108.31" fill="#000000" stroke="#000000" stroke-width="0.8"/>
<path d="M490.45 314.29V308.83M488.65 308.83H492.25" stroke="#222" stroke-width="0.6" fill="none"/>
<text transform="translate(490 305.3) scale(0.96 1)" font-family='"Liberation Serif", serif' font-weight="bold" font-size="7.5" text-anchor="middle" fill="#111">Ca</text>
<rect x="503.47" y="294.23" width="9.75" height="128.77" fill="#868686" stroke="#4a4a4a" stroke-width="0.8"/>
<path d="M508.35 293.83V289.99M506.55 289.99H510.15" stroke="#3c3c3c" stroke-width="0.6" fill="none"/>
<path d="M508.35 293.83V297.66M506.55 297.66H510.15" stroke="#3c3c3c" stroke-width="0.6" fill="none"/>
<text transform="translate(505.9 288.4) scale(0.96 1)" font-family='"Liberation Serif", serif' font-weight="bold" font-size="7.5" text-anchor="middle" fill="#111">Da</text>
<rect x="514.02" y="295.27" width="9.75" height="127.73" fill="#c9c9c9" stroke="#6a6a6a" stroke-width="0.8"/>
<path d="M518.9 294.87V291.73M517.1 291.73H520.7" stroke="#3c3c3c" stroke-width="0.6" fill="none"/>
<path d="M518.9 294.87V298.01M517.1 298.01H520.7" stroke="#3c3c3c" stroke-width="0.6" fill="none"/>
<text transform="translate(517.7 288.4) scale(0.96 1)" font-family='"Liberation Serif", serif' font-weight="bold" font-size="7.5" text-anchor="middle" fill="#111">Da</text>
<rect x="524.57" y="293.53" width="9.75" height="129.47" fill="#000000" stroke="#000000" stroke-width="0.8"/>
<path d="M529.45 293.13V289.99M527.65 289.99H531.25" stroke="#222" stroke-width="0.6" fill="none"/>
<text transform="translate(528.6 288.4) scale(0.96 1)" font-family='"Liberation Serif", serif' font-weight="bold" font-size="7.5" text-anchor="middle" fill="#111">Da</text>
<rect x="542.47" y="290.27" width="9.75" height="132.73" fill="#868686" stroke="#4a4a4a" stroke-width="0.8"/>
<path d="M547.35 289.87V286.15M545.55 286.15H549.15" stroke="#3c3c3c" stroke-width="0.6" fill="none"/>
<path d="M547.35 289.87V293.6M545.55 293.6H549.15" stroke="#3c3c3c" stroke-width="0.6" fill="none"/>
<text transform="translate(547.2 282.5) scale(0.96 1)" font-family='"Liberation Serif", serif' font-weight="bold" font-size="7.5" text-anchor="middle" fill="#111">Da</text>
<rect x="553.02" y="293.18" width="9.75" height="129.82" fill="#c9c9c9" stroke="#6a6a6a" stroke-width="0.8"/>
<path d="M557.9 292.78V288.6M556.1 288.6H559.7" stroke="#3c3c3c" stroke-width="0.6" fill="none"/>
<path d="M557.9 292.78V296.97M556.1 296.97H559.7" stroke="#3c3c3c" stroke-width="0.6" fill="none"/>
<text transform="translate(560.3 281.5) scale(0.96 1)" font-family='"Liberation Serif", serif' font-weight="bold" font-size="7.5" text-anchor="middle" fill="#111">Da</text>
<rect x="563.57" y="292.6" width="9.75" height="130.4" fill="#000000" stroke="#000000" stroke-width="0.8"/>
<path d="M568.45 292.2V288.25M566.65 288.25H570.25" stroke="#222" stroke-width="0.6" fill="none"/>
<text transform="translate(572.5 282.5) scale(0.96 1)" font-family='"Liberation Serif", serif' font-weight="bold" font-size="7.5" text-anchor="middle" fill="#111">Da</text>
<rect x="581.47" y="276.09" width="9.75" height="146.91" fill="#868686" stroke="#4a4a4a" stroke-width="0.8"/>
<path d="M586.35 275.69V273.02M584.55 273.02H588.15" stroke="#3c3c3c" stroke-width="0.6" fill="none"/>
<path d="M586.35 275.69V278.36M584.55 278.36H588.15" stroke="#3c3c3c" stroke-width="0.6" fill="none"/>
<text transform="translate(584.3 268.8) scale(0.96 1)" font-family='"Liberation Serif", serif' font-weight="bold" font-size="7.5" text-anchor="middle" fill="#111">Ea</text>
<rect x="592.02" y="276.09" width="9.75" height="146.91" fill="#c9c9c9" stroke="#6a6a6a" stroke-width="0.8"/>
<path d="M596.9 275.69V271.85M595.1 271.85H598.7" stroke="#3c3c3c" stroke-width="0.6" fill="none"/>
<path d="M596.9 275.69V279.53M595.1 279.53H598.7" stroke="#3c3c3c" stroke-width="0.6" fill="none"/>
<text transform="translate(596.3 268.8) scale(0.96 1)" font-family='"Liberation Serif", serif' font-weight="bold" font-size="7.5" text-anchor="middle" fill="#111">Ea</text>
<rect x="602.57" y="277.37" width="9.75" height="145.63" fill="#000000" stroke="#000000" stroke-width="0.8"/>
<path d="M607.45 276.97V274.06M605.65 274.06H609.25" stroke="#222" stroke-width="0.6" fill="none"/>
<text transform="translate(607.4 268.8) scale(0.96 1)" font-family='"Liberation Serif", serif' font-weight="bold" font-size="7.5" text-anchor="middle" fill="#111">Ea</text>
<path d="M382.4 248.6V423H616.4" stroke="#3a3a3a" stroke-width="1.3" fill="none"/>
<text x="376.4" y="425.77" font-family='"Liberation Sans", sans-serif' font-weight="bold" font-size="7.7" text-anchor="end" fill="#111">0</text>
<text x="376.4" y="402.52" font-family='"Liberation Sans", sans-serif' font-weight="bold" font-size="7.7" text-anchor="end" fill="#111">2</text>
<text x="376.4" y="379.27" font-family='"Liberation Sans", sans-serif' font-weight="bold" font-size="7.7" text-anchor="end" fill="#111">4</text>
<text x="376.4" y="356.01" font-family='"Liberation Sans", sans-serif' font-weight="bold" font-size="7.7" text-anchor="end" fill="#111">6</text>
<text x="376.4" y="332.76" font-family='"Liberation Sans", sans-serif' font-weight="bold" font-size="7.7" text-anchor="end" fill="#111">8</text>
<text x="376.4" y="309.51" font-family='"Liberation Sans", sans-serif' font-weight="bold" font-size="7.7" text-anchor="end" fill="#111">10</text>
<text x="376.4" y="286.25" font-family='"Liberation Sans", sans-serif' font-weight="bold" font-size="7.7" text-anchor="end" fill="#111">12</text>
<text x="376.4" y="263" font-family='"Liberation Sans", sans-serif' font-weight="bold" font-size="7.7" text-anchor="end" fill="#111">14</text>
<text x="401.9" y="434.3" font-family='"Liberation Sans", sans-serif' font-weight="bold" font-size="8.3" text-anchor="middle" fill="#111">0d</text>
<text x="440.9" y="434.3" font-family='"Liberation Sans", sans-serif' font-weight="bold" font-size="8.3" text-anchor="middle" fill="#111">2d</text>
<text x="479.9" y="434.3" font-family='"Liberation Sans", sans-serif' font-weight="bold" font-size="8.3" text-anchor="middle" fill="#111">7d</text>
<text x="518.9" y="434.3" font-family='"Liberation Sans", sans-serif' font-weight="bold" font-size="8.3" text-anchor="middle" fill="#111">14d</text>
<text x="557.9" y="434.3" font-family='"Liberation Sans", sans-serif' font-weight="bold" font-size="8.3" text-anchor="middle" fill="#111">21d</text>
<text x="596.9" y="434.3" font-family='"Liberation Sans", sans-serif' font-weight="bold" font-size="8.3" text-anchor="middle" fill="#111">28d</text>
<path d="M382.4 423h-3.5M382.4 411.37h-1.7M382.4 399.75h-3.5M382.4 388.12h-1.7M382.4 376.49h-3.5M382.4 364.87h-1.7M382.4 353.24h-3.5M382.4 341.61h-1.7M382.4 329.99h-3.5M382.4 318.36h-1.7M382.4 306.73h-3.5M382.4 295.11h-1.7M382.4 283.48h-3.5M382.4 271.85h-1.7M382.4 260.23h-3.5M382.4 248.6h-1.7M401.9 423v3.2M421.4 423v1.8M440.9 423v3.2M460.4 423v1.8M479.9 423v3.2M499.4 423v1.8M518.9 423v3.2M538.4 423v1.8M557.9 423v3.2M577.4 423v1.8M596.9 423v3.2M616.4 423v1.8" stroke="#3a3a3a" stroke-width="0.9" fill="none"/>
<text x="500" y="451" font-family='"Liberation Serif", serif' font-weight="bold" font-size="10.5" text-anchor="middle" fill="#111">Fermentation time (d)</text>
<text transform="translate(361 335.4) rotate(-90)" font-family='"Liberation Serif", serif' font-weight="bold" font-size="10.45" text-anchor="middle" fill="#111">Spermidine(mg/kg)</text>
<text x="353.5" y="273.8" font-family='"Liberation Serif", serif' font-weight="bold" font-size="18" fill="#000">h</text>
<rect x="398.3" y="258.5" width="19.1" height="9.6" fill="#868686" stroke="#4a4a4a" stroke-width="0.8"/>
<text x="425.4" y="266.54" font-family='"Liberation Sans", sans-serif' font-size="9.0" fill="#111" style="stroke-width:0.25px">C</text>
<rect x="398.3" y="269.4" width="19.1" height="9.6" fill="#c9c9c9" stroke="#6a6a6a" stroke-width="0.8"/>
<text x="425.4" y="277.44" font-family='"Liberation Sans", sans-serif' font-size="9.0" fill="#111" style="stroke-width:0.25px">CEO</text>
<rect x="398.3" y="280.5" width="19.1" height="9.6" fill="#000000" stroke="#000000" stroke-width="0.8"/>
<text x="425.4" y="288.54" font-family='"Liberation Sans", sans-serif' font-size="9.0" fill="#111" style="stroke-width:0.25px">CEOM</text>
</g>
</svg>
</body></html>
